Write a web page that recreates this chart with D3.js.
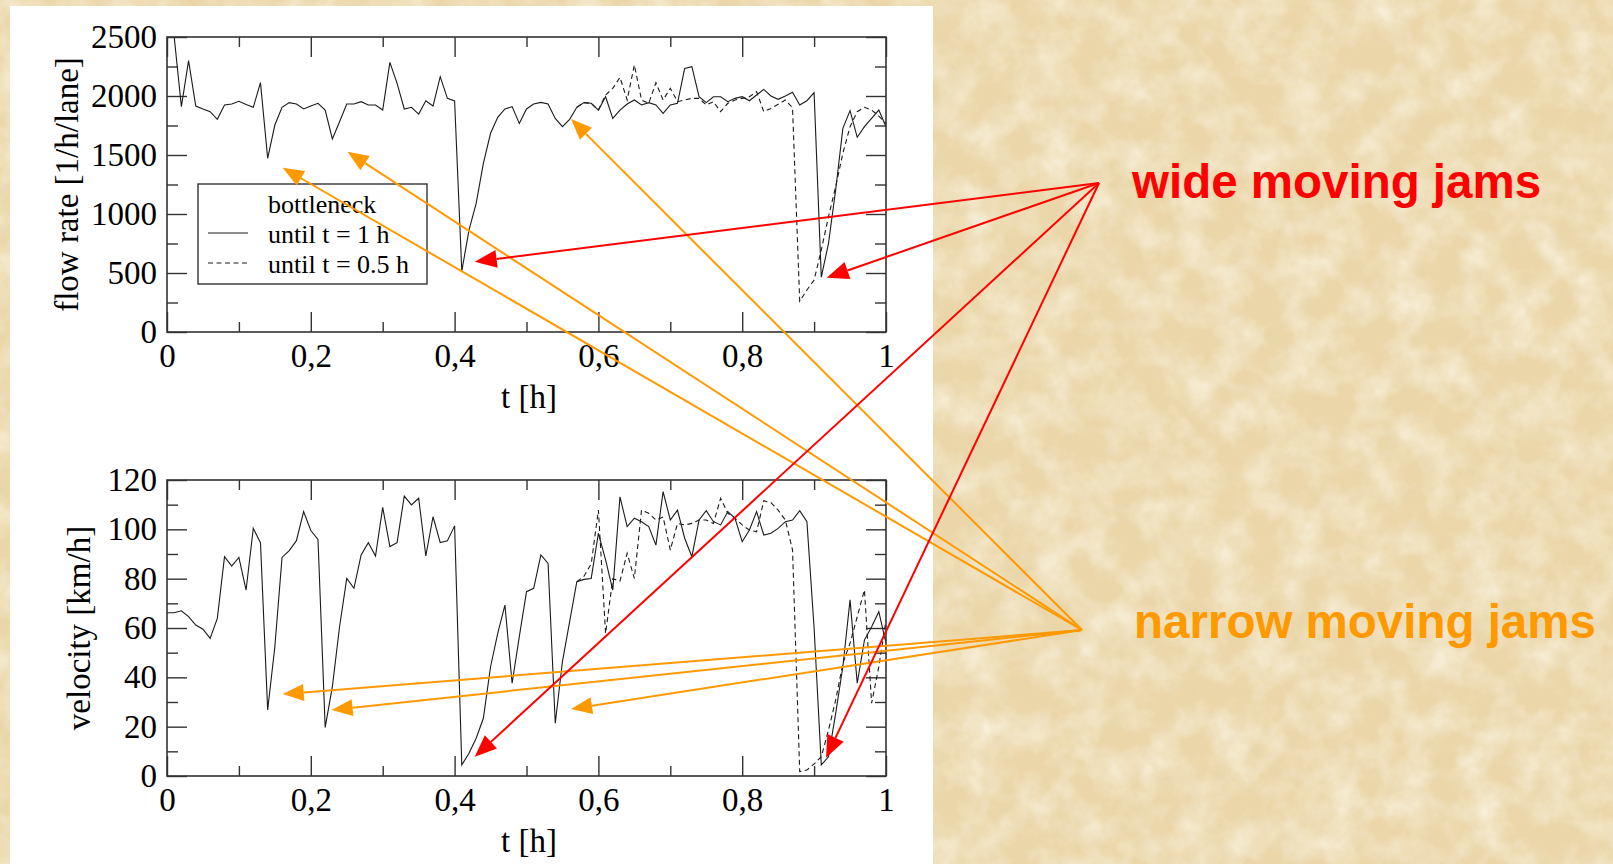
<!DOCTYPE html>
<html>
<head>
<meta charset="utf-8">
<script src="https://cdnjs.cloudflare.com/ajax/libs/d3/7.8.5/d3.min.js"></script>
<style>
  body { margin: 0; overflow: hidden; }
  svg { display: block; }
</style>
</head>
<body>
<svg id="chart" width="1613" height="864"></svg>
<script>
// sampling grid: one value every 0.01 h
var times = d3.range(101).map(function (i) { return i / 100; });
// index from which the "until t = 0.5 h" run differs from the other one
var dashedStart = 57;

var flowUntil1h = [
  2700, 2500, 1910, 2300, 1915, 1890, 1867, 1802, 1924, 1932,
  1955, 1927, 1904, 2113, 1472, 1754, 1904, 1944, 1932, 1890,
  1915, 1938, 1881, 1636, 1782, 1932, 1932, 1952, 1924, 1924,
  1881, 2285, 2107, 1890, 1904, 1847, 1960, 1915, 2164, 1980,
  1958, 515, 864, 1090, 1429, 1684, 1819, 1890, 1910, 1768,
  1890, 1932, 1946, 1932, 1810, 1740, 1802, 1904, 1944, 1938,
  1881, 1994, 1810, 1881, 1932, 1966, 1924, 1944, 1924, 1853,
  1924, 1938, 2234, 2249, 1994, 1944, 1994, 1994, 1952, 1980,
  1994, 1960, 2008, 2056, 2000, 1972, 2000, 2031, 1924, 1960,
  2028, 465, 751, 1203, 1726, 1876, 1650, 1740, 1811, 1881,
  1740
];
var flowUntil05h = [
  1904, 1944, 1938, 1881, 2008, 2065, 2158, 1966, 2263, 1966,
  1938, 2113, 1966, 2065, 1952, 1966, 1980, 1980, 1924, 1952,
  1867, 1938, 1966, 1980, 1994, 2037, 1867, 1895, 1930, 1966,
  1900, 260, 356, 440, 695, 977, 1232, 1514, 1740, 1867,
  1904, 1881, 1830, 1768
];
var velocityUntil1h = [
  66.2, 66.2, 67, 64.6, 61.2, 59.5, 55.8, 63.9, 88.9, 85.1,
  88.6, 75.4, 100.4, 94.6, 26.8, 52.4, 88.6, 91.4, 95.4, 107.2,
  99.5, 95.9, 19.7, 36.2, 60.5, 80.1, 76.1, 89.6, 94.6, 89.2,
  108.9, 93, 94.6, 113.5, 109.9, 112.6, 89.2, 105.1, 94.6, 95.4,
  101.4, 4.5, 9.2, 15.3, 23.4, 44.3, 57.8, 69.3, 37.6, 56.5,
  74.7, 76.1, 89.6, 86.2, 21.4, 46.4, 62.6, 78.8, 79.7, 80.1,
  98.4, 87.6, 75.4, 113.2, 101.1, 104.5, 103.1, 101.1, 93.6, 115.3,
  103.8, 107.8, 96.4, 88.9, 103.8, 107.6, 103.1, 101.8, 107.2, 104.5,
  95, 99.7, 107.2, 97.7, 98.4, 100.4, 103.1, 103.8, 107.6, 103.1,
  60, 4.5, 7.8, 25.4, 44.3, 71.4, 37.6, 55.1, 60.5, 66.6,
  53.8
];
var velocityUntil05h = [
  78.8, 81, 86, 107.8, 57.8, 80, 79, 90.3, 80.1, 107.8,
  106.5, 103.8, 105, 91.6, 102.4, 101.8, 102.4, 103.8, 103.8, 102.4,
  112.6, 106.5, 104.5, 101.8, 99.7, 99, 111.6, 110.8, 107.8, 103.8,
  91.6, 1.8, 2.4, 4.9, 7.8, 18.6, 30.8, 45.7, 53.8, 64.6,
  75.4, 29.5, 44.3, 63.2
];

var xTicks = [0, 0.2, 0.4, 0.6, 0.8, 1];
var xMinorTicks = [0.1, 0.3, 0.5, 0.7, 0.9];
var xTickLabels = ["0", "0,2", "0,4", "0,6", "0,8", "1"];
var flowTicks = [0, 500, 1000, 1500, 2000, 2500];
var flowMinorTicks = [250, 750, 1250, 1750, 2250];
var velocityTicks = [0, 20, 40, 60, 80, 100, 120];
var velocityMinorTicks = [10, 30, 50, 70, 90, 110];
var legendTitle = "bottleneck";
var legendLabels = ["until t = 1 h", "until t = 0.5 h"];

// arrow tips, in data units of the panel they point into
var wideJams = [
  { panel: 0, t: 0.428, v: 596 },
  { panel: 0, t: 0.9175, v: 460 },
  { panel: 1, t: 0.428, v: 7.8 },
  { panel: 1, t: 0.9166, v: 7.4 }
];
var narrowJams = [
  { panel: 0, t: 0.161, v: 1392 },
  { panel: 0, t: 0.251, v: 1528 },
  { panel: 0, t: 0.562, v: 1805 },
  { panel: 1, t: 0.161, v: 33.2 },
  { panel: 1, t: 0.229, v: 26.8 },
  { panel: 1, t: 0.562, v: 27.2 }
];

var svg = d3.select("#chart");
var serif = "'Liberation Serif', 'Times New Roman', serif";
var sans = "'Liberation Sans', Arial, sans-serif";

// parchment background: fine light mottle plus darker speckle
var defs = svg.append("defs");
var paper = defs.append("filter").attr("id", "paper")
  .attr("x", 0).attr("y", 0).attr("width", "100%").attr("height", "100%");
paper.append("feTurbulence").attr("type", "fractalNoise")
  .attr("baseFrequency", "0.028").attr("numOctaves", 4).attr("seed", 7);
paper.append("feColorMatrix").attr("type", "matrix")
  .attr("values", "0 0 0 0 1  0 0 0 0 0.97  0 0 0 0 0.88  1.2 0 0 0 -0.42");
var speck = defs.append("filter").attr("id", "speck")
  .attr("x", 0).attr("y", 0).attr("width", "100%").attr("height", "100%");
speck.append("feTurbulence").attr("type", "fractalNoise")
  .attr("baseFrequency", "0.06").attr("numOctaves", 3).attr("seed", 2);
speck.append("feColorMatrix").attr("type", "matrix")
  .attr("values", "0 0 0 0 0.8  0 0 0 0 0.66  0 0 0 0 0.42  0.9 0 0 0 -0.4");

svg.append("rect").attr("width", 1613).attr("height", 864).attr("fill", "#ead6a8");
svg.append("rect").attr("width", 1613).attr("height", 864).attr("filter", "url(#paper)");
svg.append("rect").attr("width", 1613).attr("height", 864).attr("filter", "url(#speck)");

// white sheet behind the plots
svg.append("rect").attr("x", 10).attr("y", 6).attr("width", 923).attr("height", 858)
  .attr("fill", "#fff");

var x = d3.scaleLinear().domain([0, 1]).range([167, 886]);

var panels = [
  {
    y: d3.scaleLinear().domain([0, 2500]).range([332, 37]),
    ticks: flowTicks, minor: flowMinorTicks,
    solid: flowUntil1h, dashed: flowUntil05h,
    title: "flow rate [1/h/lane]", titleX: 78
  },
  {
    y: d3.scaleLinear().domain([0, 120]).range([776, 480]),
    ticks: velocityTicks, minor: velocityMinorTicks,
    solid: velocityUntil1h, dashed: velocityUntil05h,
    title: "velocity [km/h]", titleX: 90
  }
];

function styleAxis(g) {
  g.select(".domain").remove();
  g.selectAll(".tick line").attr("stroke", "#333").attr("stroke-width", 1.4);
  g.selectAll(".tick text").attr("fill", "#000")
    .attr("font-family", serif).attr("font-size", 33);
}

var line = d3.line()
  .x(function (d) { return x(d[0]); })
  .y(function (d) { return d[1]; });

panels.forEach(function (p, k) {
  var y = p.y;
  var top = y.range()[1], bottom = y.range()[0];
  var g = svg.append("g");

  g.append("g").attr("transform", "translate(0," + bottom + ")")
    .call(d3.axisBottom(x).tickValues(xTicks).tickSize(-20).tickPadding(12)
      .tickFormat(function (d, i) { return xTickLabels[i]; }))
    .call(styleAxis);
  g.append("g").attr("transform", "translate(0," + bottom + ")")
    .call(d3.axisBottom(x).tickValues(xMinorTicks).tickSize(-10).tickFormat(""))
    .call(styleAxis);
  g.append("g").attr("transform", "translate(0," + top + ")")
    .call(d3.axisTop(x).tickValues(xTicks).tickSize(-20).tickFormat(""))
    .call(styleAxis);
  g.append("g").attr("transform", "translate(0," + top + ")")
    .call(d3.axisTop(x).tickValues(xMinorTicks).tickSize(-10).tickFormat(""))
    .call(styleAxis);
  g.append("g").attr("transform", "translate(167,0)")
    .call(d3.axisLeft(y).tickValues(p.ticks).tickSize(-20).tickPadding(10)
      .tickFormat(d3.format("d")))
    .call(styleAxis);
  g.append("g").attr("transform", "translate(167,0)")
    .call(d3.axisLeft(y).tickValues(p.minor).tickSize(-11).tickFormat(""))
    .call(styleAxis);
  g.append("g").attr("transform", "translate(886,0)")
    .call(d3.axisRight(y).tickValues(p.ticks).tickSize(-20).tickFormat(""))
    .call(styleAxis);
  g.append("g").attr("transform", "translate(886,0)")
    .call(d3.axisRight(y).tickValues(p.minor).tickSize(-11).tickFormat(""))
    .call(styleAxis);

  // clip and series
  defs.append("clipPath").attr("id", "clip" + k).append("rect")
    .attr("x", 167).attr("y", top).attr("width", 719).attr("height", bottom - top);
  var lines = g.append("g").attr("clip-path", "url(#clip" + k + ")")
    .attr("fill", "none").attr("stroke", "#1a1a1a").attr("stroke-width", 1.1);
  lines.append("path")
    .attr("d", line(p.solid.map(function (v, i) { return [times[i], y(v)]; })));
  lines.append("path").attr("stroke-dasharray", "5,3.5")
    .attr("d", line(p.dashed.map(function (v, i) { return [times[dashedStart + i], y(v)]; })));

  // frame
  g.append("rect").attr("x", 167).attr("y", top).attr("width", 719)
    .attr("height", bottom - top).attr("fill", "none")
    .attr("stroke", "#333").attr("stroke-width", 1.6);

  // axis titles
  g.append("text").attr("x", 529).attr("y", bottom + 76)
    .attr("text-anchor", "middle").attr("font-family", serif).attr("font-size", 33)
    .text("t [h]");
  g.append("text")
    .attr("transform", "translate(" + p.titleX + "," + ((top + bottom) / 2) + ") rotate(-90)")
    .attr("text-anchor", "middle").attr("font-family", serif).attr("font-size", 33)
    .text(p.title);
});

// legend in the flow panel
var legend = svg.append("g").attr("font-family", serif).attr("font-size", 26);
legend.append("rect").attr("x", 198).attr("y", 184).attr("width", 229).attr("height", 100)
  .attr("fill", "#fff").attr("stroke", "#333").attr("stroke-width", 1.4);
legend.append("text").attr("x", 268).attr("y", 213).text(legendTitle);
legendLabels.forEach(function (label, i) {
  var yy = 233 + i * 30;
  legend.append("line").attr("x1", 208).attr("x2", 248).attr("y1", yy).attr("y2", yy)
    .attr("stroke", "#1a1a1a").attr("stroke-width", 1.1)
    .attr("stroke-dasharray", i === 1 ? "5,3.5" : null);
  legend.append("text").attr("x", 268).attr("y", yy + 10).text(label);
});

// annotation arrows
function arrow(x1, y1, x2, y2, color, len, half) {
  var a = Math.atan2(y2 - y1, x2 - x1);
  var bx = x2 - len * Math.cos(a), by = y2 - len * Math.sin(a);
  var px = -Math.sin(a) * half, py = Math.cos(a) * half;
  svg.append("line").attr("x1", x1).attr("y1", y1).attr("x2", bx).attr("y2", by)
    .attr("stroke", color).attr("stroke-width", 2);
  svg.append("polygon")
    .attr("points", [[x2, y2], [bx + px, by + py], [bx - px, by - py]].join(" "))
    .attr("fill", color);
}

var wideOrigin = [1099, 183];
var narrowOrigin = [1082, 630];

narrowJams.forEach(function (d) {
  arrow(narrowOrigin[0], narrowOrigin[1], x(d.t), panels[d.panel].y(d.v), "#ff9900", 21, 8.5);
});
wideJams.forEach(function (d) {
  arrow(wideOrigin[0], wideOrigin[1], x(d.t), panels[d.panel].y(d.v), "#ff0000", 22, 9);
});

svg.append("text").attr("x", 1132).attr("y", 198)
  .attr("font-family", sans).attr("font-weight", "bold").attr("font-size", 47.5)
  .attr("fill", "#ff0000").text("wide moving jams");
svg.append("text").attr("x", 1134).attr("y", 638)
  .attr("font-family", sans).attr("font-weight", "bold").attr("font-size", 47.5)
  .attr("fill", "#ff9900").text("narrow moving jams");
</script>
</body>
</html>
